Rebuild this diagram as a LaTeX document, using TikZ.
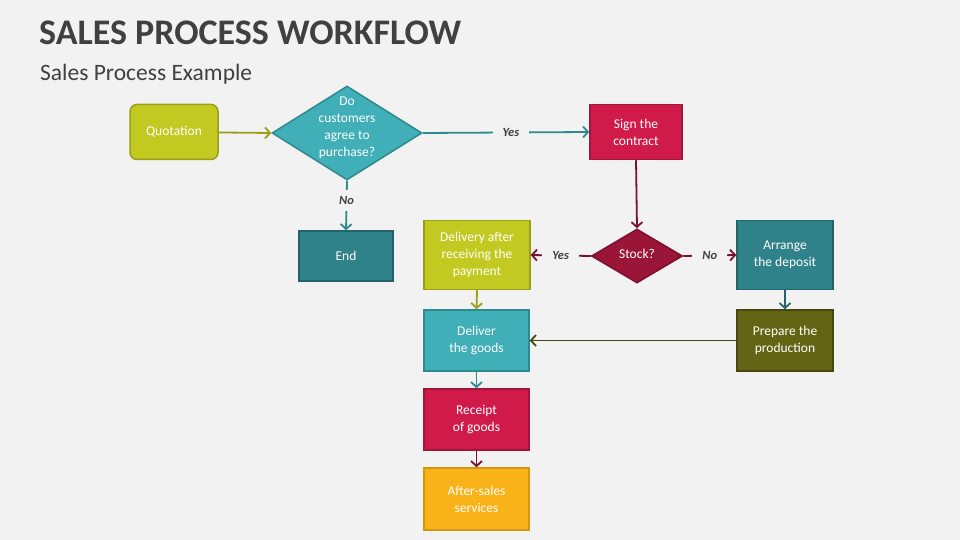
\documentclass[tikz,border=0pt]{standalone}
\usepackage{fontspec}
\setmainfont{Carlito}
\usetikzlibrary{arrows.meta,shapes.geometric}
\definecolor{bg}{HTML}{F2F2F2}
\definecolor{titlegray}{HTML}{404040}
\definecolor{ygfill}{HTML}{C2C920}
\definecolor{ygline}{HTML}{9A9E18}
\definecolor{tealfill}{HTML}{40AFB8}
\definecolor{tealline}{HTML}{2F8A90}
\definecolor{dtealfill}{HTML}{30828A}
\definecolor{dtealline}{HTML}{24646A}
\definecolor{crimfill}{HTML}{CF1A4A}
\definecolor{crimline}{HTML}{A01538}
\definecolor{wine}{HTML}{9A1538}
\definecolor{wineline}{HTML}{7C1030}
\definecolor{olivefill}{HTML}{636414}
\definecolor{oliveline}{HTML}{46470E}
\definecolor{ambfill}{HTML}{F9B218}
\definecolor{ambline}{HTML}{D4960E}
\tikzset{
  box/.style={draw, line width=1.5pt, align=center, text=white, inner sep=0pt,
    font=\fontsize{13.5}{17}\selectfont},
  dia/.style={diamond, draw, line width=1.5pt, inner sep=0pt},
  dtext/.style={align=center, text=white, inner sep=0pt, font=\fontsize{13.5}{17}\selectfont},
  conn/.style={line width=1.8pt, -{Straight Barb[length=5pt,width=11pt,line width=1.8pt]}},
  lbl/.style={fill=bg, inner xsep=10pt, inner ysep=6pt, text=titlegray,
    font=\fontsize{12.5}{14}\selectfont\bfseries\itshape}
}
\begin{document}
\begin{tikzpicture}[x=1pt,y=-1pt]
\fill[bg] (0,0) rectangle (960,540);
\useasboundingbox (0,0) rectangle (960,540);

\node[anchor=base west, inner sep=0pt, text=titlegray, font=\fontsize{36}{40}\selectfont\bfseries] (title) at (39,45) {SALES PROCESS WORKFLOW};
\node[anchor=base west, inner sep=0pt, text=titlegray, font=\fontsize{23.5}{26}\selectfont] (subtitle) at (40,81) {Sales Process Example};

\node[box, rounded corners=7pt, fill=ygfill, draw=ygline, minimum width=88pt, minimum height=55pt] (quot) at (174,132) {Quotation};
\node[dia, fill=tealfill, draw=tealline, minimum width=150pt, minimum height=94pt] (d1) at (347,133) {};
\node[dtext] (d1t) at (347,128) {Do\\customers\\agree to\\purchase?};
\node[box, fill=crimfill, draw=crimline, minimum width=92pt, minimum height=55pt] (sign) at (636,132) {Sign the\\contract};
\node[box, fill=dtealfill, draw=dtealline, minimum width=94pt, minimum height=50pt] (end) at (346,256) {End};
\node[box, fill=ygfill, draw=ygline, minimum width=106pt, minimum height=69pt] (deliv) at (477,255) {Delivery after\\receiving the\\payment};
\node[dia, fill=wine, draw=wineline, minimum width=91pt, minimum height=54pt] (stock) at (637,256) {};
\node[dtext] (stockt) at (637,254) {Stock?};
\node[box, fill=dtealfill, draw=dtealline, minimum width=96pt, minimum height=69pt] (arr) at (785,255) {Arrange\\the deposit};
\node[box, fill=tealfill, draw=tealline, minimum width=105pt, minimum height=61pt] (goods) at (476.5,340.5) {Deliver\\the goods};
\node[box, fill=olivefill, draw=oliveline, minimum width=96pt, minimum height=61pt] (prep) at (785,340.5) {Prepare the\\production};
\node[box, fill=crimfill, draw=crimline, minimum width=105pt, minimum height=61pt] (rec) at (476.5,419.5) {Receipt\\of goods};
\node[box, fill=ambfill, draw=ambline, minimum width=105pt, minimum height=62pt] (after) at (476.5,499) {After-sales\\services};

\draw[conn, ygline] (quot) -- (d1.west);
\draw[conn, tealline] (d1.east) -- node[lbl, pos=0.53] (yes1) {Yes} (sign.west);
\draw[conn, tealline] (d1.south) -- node[lbl, pos=0.4] (no1) {No} (end.north);
\draw[conn, wineline] (sign.south) -- (stock.north);
\draw[conn, wineline] (stock.west) -- node[lbl] (yes2) {Yes} (deliv.east);
\draw[conn, wineline] (stock.east) -- node[lbl] (no2) {No} (arr.west);
\draw[conn, ygline] (deliv.south) -- (goods.north);
\draw[conn, dtealline] (arr.south) -- (prep.north);
\draw[conn, oliveline] (prep.west) -- (goods.east);
\draw[conn, tealline] (goods.south) -- (rec.north);
\draw[conn, wineline] (rec.south) -- (after.north);
\end{tikzpicture}
\end{document}
